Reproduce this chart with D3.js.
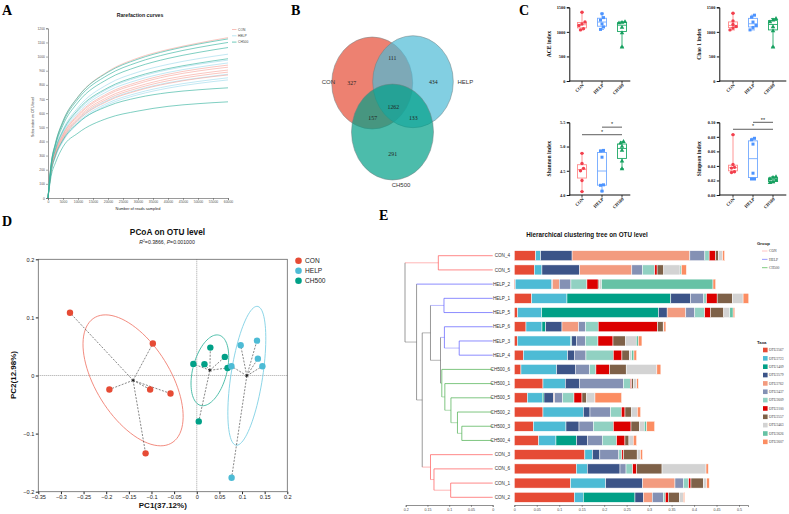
<!DOCTYPE html>
<html>
<head>
<meta charset="utf-8">
<script src="https://cdn.jsdelivr.net/npm/d3@7"></script>
<style>
  body { margin: 0; background: #fff; }
  svg { display: block; }
</style>
</head>
<body>
<svg id="fig" width="789" height="514"></svg>
<script>
const serif = "'Liberation Serif','Times New Roman',serif";
const sans = "'Liberation Sans',Arial,sans-serif";

const groups = ["CON", "HELP", "CH500"];

// ---- A: rarefaction curves (reads sampled vs Sobs) ----
const rareX = [0, 1000, 2500, 5000, 10000, 20000, 30000, 40000, 50000, 60000];
const rareCON = [
  [0, 230, 385, 540, 715, 895, 990, 1050, 1095, 1134],
  [0, 200, 330, 450, 590, 740, 820, 875, 912, 940],
  [0, 195, 325, 445, 582, 730, 808, 862, 898, 925],
  [0, 190, 318, 435, 570, 714, 790, 843, 878, 905],
  [0, 188, 313, 428, 560, 702, 777, 829, 864, 890],
  [0, 185, 306, 418, 548, 686, 760, 810, 845, 870]
];
const rareHELP = [
  [0, 210, 350, 485, 640, 805, 890, 945, 985, 1017],
  [0, 205, 340, 468, 615, 772, 853, 907, 945, 975],
  [0, 200, 333, 458, 602, 756, 835, 888, 925, 955],
  [0, 185, 305, 420, 552, 692, 765, 815, 848, 875],
  [0, 180, 297, 408, 536, 672, 743, 791, 824, 850],
  [0, 175, 290, 400, 526, 660, 730, 777, 810, 835]
];
const rareCH500 = [
  [0, 235, 390, 545, 715, 890, 982, 1043, 1088, 1125],
  [0, 230, 382, 533, 700, 870, 960, 1020, 1064, 1100],
  [0, 222, 370, 515, 677, 842, 929, 987, 1029, 1064],
  [0, 210, 345, 475, 625, 780, 862, 915, 953, 985],
  [0, 180, 300, 410, 530, 650, 710, 745, 765, 779],
  [0, 150, 250, 362, 459, 565, 615, 648, 667, 680]
];
const rareXTicks = [0, 5000, 10000, 15000, 20000, 25000, 30000, 35000, 40000, 45000, 50000, 55000, 60000];
const rareYTicks = [0, 100, 200, 300, 400, 500, 600, 700, 800, 900, 1000, 1100, 1200];

// ---- B: venn counts ----
const vennRegions = ["CON", "HELP", "CH500", "CON&HELP", "CON&CH500", "HELP&CH500", "ALL"];
const vennValues = [327, 434, 291, 111, 157, 133, 1262];

// ---- C: alpha diversity (6 samples per group) ----
const aceValues = [
  [1400, 1200, 1160, 1130, 1065, 1040],
  [1370, 1290, 1240, 1160, 1100, 1050],
  [1205, 1190, 1180, 1090, 980, 690]
];
const chaoValues = [
  [1380, 1220, 1150, 1110, 1080, 1040],
  [1340, 1300, 1200, 1130, 1090, 1040],
  [1270, 1240, 1200, 1100, 1020, 690]
];
const shannonValues = [
  [4.86, 4.65, 4.55, 4.50, 4.30, 4.07],
  [4.92, 4.91, 4.78, 4.21, 4.20, 4.08],
  [5.10, 5.07, 5.00, 4.92, 4.70, 4.54]
];
const simpsonValues = [
  [0.083, 0.042, 0.038, 0.037, 0.032, 0.031],
  [0.078, 0.076, 0.070, 0.030, 0.022, 0.022],
  [0.025, 0.024, 0.022, 0.020, 0.018, 0.017]
];

// ---- D: PCoA coordinates ----
const pcoaCON = [[-0.28, 0.108], [-0.097, 0.055], [-0.193, -0.024], [-0.103, -0.024], [-0.058, -0.031], [-0.113, -0.134]];
const pcoaHELP = [[0.0766, 0.016], [0.097, 0.052], [0.133, 0.060], [0.135, 0.029], [0.145, 0.016], [0.077, -0.176]];
const pcoaCH500 = [[-0.0075, 0.020], [0.017, 0.0195], [0.030, 0.048], [0.062, 0.032], [0.068, 0.013], [0.0044, -0.079]];
const pcoaXTicks = [-0.35, -0.3, -0.25, -0.2, -0.15, -0.1, -0.05, 0, 0.05, 0.1, 0.15, 0.2];
const pcoaYTicks = [-0.2, -0.1, 0, 0.1, 0.2];

// ---- E: clustering tree + relative abundance ----
const sampleNames = ["CON_4", "CON_5", "HELP_2", "HELP_1", "HELP_5", "HELP_6", "HELP_3", "HELP_4",
  "CH500_6", "CH500_1", "CH500_5", "CH500_2", "CH500_3", "CH500_4", "CON_3", "CON_6", "CON_1", "CON_2"];
const taxaNames = ["OTU2567", "OTU2723", "OTU1409", "OTU2579", "OTU2762", "OTU2437",
  "OTU2609", "OTU2100", "OTU2557", "OTU2463", "OTU2626", "OTU2607"];
const taxaValues = [
  [0.0476, 0.0445, 0.002, 0.0386, 0.0074, 0.026, 0.0067, 0.02, 0.0148, 0.0638, 0.029, 0.0638, 0.0423, 0.0541, 0.157, 0.138, 0.1254, 0.1335],
  [0.011, 0.017, 0.081, 0.0786, 0.0534, 0.0356, 0.119, 0.0986, 0.0794, 0.0497, 0.0334, 0.0898, 0.0727, 0.0386, 0.017, 0.0245, 0.0779, 0.02],
  [0, 0, 0, 0.231, 0.260, 0.0082, 0.0022, 0, 0, 0, 0.0037, 0, 0, 0.046, 0, 0, 0, 0.115],
  [0.070, 0.084, 0.002, 0.0438, 0.0193, 0.0363, 0.011, 0.0148, 0.0415, 0.0312, 0.0215, 0.0148, 0.029, 0.0245, 0.0163, 0.0727, 0.0823, 0.0185],
  [0.262, 0.116, 0.015, 0, 0.0415, 0.037, 0, 0, 0, 0, 0.002, 0, 0, 0, 0, 0, 0.0719, 0.02],
  [0.0334, 0.0237, 0.026, 0.0297, 0.02, 0.0156, 0.0193, 0.026, 0.0319, 0.098, 0.018, 0.046, 0.0319, 0.0326, 0.0423, 0.0134, 0.0185, 0.0245],
  [0.0096, 0.0274, 0.0356, 0.006, 0.0222, 0.028, 0.028, 0.0608, 0.014, 0.0156, 0.0252, 0.0237, 0.0445, 0.0319, 0.0067, 0.0148, 0.0119, 0.0045],
  [0.0142, 0.0052, 0.025, 0.0237, 0.0126, 0.132, 0.0334, 0.0193, 0.0304, 0.003, 0.0178, 0.0082, 0.0393, 0.0185, 0.0037, 0.0089, 0.0052, 0.0067],
  [0.006, 0.0148, 0.003, 0.034, 0.0297, 0.0126, 0.028, 0.0163, 0.037, 0.0037, 0.0104, 0.0148, 0.0185, 0.0089, 0.0304, 0.0564, 0.0274, 0.0245],
  [0.0097, 0.0363, 0.0045, 0.0237, 0.0134, 0.0015, 0.0237, 0.0052, 0.0682, 0.0074, 0.0185, 0.0126, 0.0111, 0.0096, 0.0074, 0.0979, 0.0074, 0.0089],
  [0, 0.003, 0.248, 0, 0.0074, 0, 0.0045, 0.0052, 0, 0, 0, 0, 0.0052, 0, 0, 0, 0, 0],
  [0.0045, 0.011, 0.006, 0.0126, 0.0037, 0.0045, 0.0082, 0.006, 0.0089, 0.0037, 0.0593, 0.0074, 0.0178, 0.0074, 0.0045, 0.0052, 0.006, 0.003]
];
const treeTicks = [0.2, 0.15, 0.1, 0.05, 0];
const barTicks = [0, 0.05, 0.1, 0.15, 0.2, 0.25, 0.3, 0.35, 0.4, 0.45, 0.5];
// merge heights of the tree
const treeData = {h: 0.2016, c: [
  {h: 0.125, c: ["CON_4", "CON_5"]},
  {h: 0.175, c: ["HELP_2", {h: 0.162, c: [
    {h: 0.143, c: [
      {h: 0.112, c: ["HELP_1", "HELP_5"]},
      {h: 0.120, c: [
        {h: 0.111, c: ["HELP_6", {h: 0.077, c: ["HELP_3", "HELP_4"]}]},
        {h: 0.117, c: ["CH500_6", {h: 0.110, c: ["CH500_1", {h: 0.096, c: ["CH500_5",
          {h: 0.081, c: ["CH500_2", {h: 0.071, c: ["CH500_3", "CH500_4"]}]}]}]}]}
      ]}
    ]},
    {h: 0.143, c: ["CON_3", {h: 0.135, c: ["CON_6", {h: 0.0966, c: ["CON_1", "CON_2"]}]}]}
  ]}]}
]};

const svg = d3.select("#fig");

function styleAxis(sel, size, color, family) {
  sel.selectAll("text").attr("font-size", size).attr("font-family", family || sans).attr("fill", color);
  sel.selectAll("line").attr("stroke", color);
  sel.select(".domain").attr("stroke", color);
}

// panel letters
[["A", 2, 15], ["B", 291, 15], ["C", 519, 15], ["D", 2, 226], ["E", 379, 220]].forEach(([t, x, y]) => {
  svg.append("text").attr("x", x).attr("y", y).text(t)
    .attr("font-family", serif).attr("font-weight", "bold").attr("font-size", 14);
});

// ================= A =================
{
  const g = svg.append("g");
  const x = d3.scaleLinear().domain([0, 60000]).range([48, 228]);
  const y = d3.scaleLinear().domain([0, 1200]).range([198, 28.3]);

  const xa = g.append("g").attr("transform", "translate(0,198)")
    .call(d3.axisBottom(x).tickValues(rareXTicks).tickSize(2).tickPadding(1).tickFormat(d3.format("d")));
  styleAxis(xa, 3.4, "#555");
  const ya = g.append("g").attr("transform", "translate(48,0)")
    .call(d3.axisLeft(y).tickValues(rareYTicks).tickSize(2).tickPadding(1).tickFormat(d3.format("d")));
  styleAxis(ya, 3.4, "#555");
  g.selectAll(".domain").attr("stroke-width", 0.6);
  g.selectAll(".tick line").attr("stroke-width", 0.5);

  const colors = {CON: "#F5A59C", HELP: "#9FDBEC", CH500: "#34B39E"};
  const line = d3.line().x((d, i) => x(rareX[i])).y(d => y(d)).curve(d3.curveMonotoneX);
  [["HELP", rareHELP], ["CON", rareCON], ["CH500", rareCH500]].forEach(([grp, rows]) => {
    g.selectAll(null).data(rows).join("path")
      .attr("d", line).attr("fill", "none")
      .attr("stroke", colors[grp]).attr("stroke-width", 0.7).attr("stroke-opacity", 0.9);
  });

  g.append("text").attr("x", 140).attr("y", 17).attr("text-anchor", "middle")
    .attr("font-family", sans).attr("font-weight", "bold").attr("font-size", 5.2).attr("fill", "#222")
    .text("Rarefaction curves");
  g.append("text").attr("x", 138).attr("y", 210).attr("text-anchor", "middle")
    .attr("font-family", sans).attr("font-size", 3.9).attr("fill", "#222").text("Number of reads sampled");
  g.append("text").attr("transform", "translate(33.5,117) rotate(-90)").attr("text-anchor", "middle")
    .attr("font-family", sans).attr("font-size", 3.6).attr("fill", "#222").text("Sobs index on OTU level");

  groups.forEach((grp, i) => {
    const yy = 29.5 + i * 6.3;
    g.append("line").attr("x1", 232).attr("x2", 236.5).attr("y1", yy).attr("y2", yy)
      .attr("stroke", colors[grp]).attr("stroke-width", 0.7);
    g.append("text").attr("x", 238).attr("y", yy + 1.1).attr("font-family", sans)
      .attr("font-size", 3.3).attr("fill", "#444").text(grp);
  });
}

// ================= B =================
{
  const g = svg.append("g");
  const shapes = [
    {cx: 372.2, cy: 83, rx: 40.5, ry: 46, fill: "#E64B35"},
    {cx: 413, cy: 81.7, rx: 40.3, ry: 46, fill: "#4DBBD5"},
    {cx: 392.5, cy: 132, rx: 41, ry: 48, fill: "#00A087"}
  ];
  g.selectAll("ellipse").data(shapes).join("ellipse")
    .attr("cx", d => d.cx).attr("cy", d => d.cy).attr("rx", d => d.rx).attr("ry", d => d.ry)
    .attr("fill", d => d.fill).attr("fill-opacity", 0.7)
    .attr("stroke", "#6f7f80").attr("stroke-width", 0.5);

  const spots = {
    "CON": [351.7, 83], "HELP": [433.3, 82], "CH500": [392.7, 154],
    "CON&HELP": [392.3, 58.3], "CON&CH500": [372.7, 118], "HELP&CH500": [413.3, 118], "ALL": [393.3, 106.7]
  };
  g.selectAll("text.cnt").data(vennRegions).join("text").attr("class", "cnt")
    .attr("x", d => spots[d][0]).attr("y", d => spots[d][1]).attr("dy", "0.35em")
    .attr("text-anchor", "middle").attr("font-family", serif).attr("font-size", 5.8).attr("fill", "#222")
    .text((d, i) => vennValues[i]);

  g.append("text").attr("x", 335).attr("y", 84).attr("text-anchor", "end")
    .attr("font-family", sans).attr("font-size", 6).attr("fill", "#333").text("CON");
  g.append("text").attr("x", 457.5).attr("y", 84).attr("font-family", sans)
    .attr("font-size", 6).attr("fill", "#333").text("HELP");
  g.append("text").attr("x", 401).attr("y", 187).attr("text-anchor", "middle")
    .attr("font-family", sans).attr("font-size", 6).attr("fill", "#333").text("CH500");
}

// ================= C =================
const boxStroke = ["#FF8A8A", "#72A9FF", "#1FA866"];
const ptFill = ["#F2404E", "#4D94FF", "#17A060"];
const ptShape = [d3.symbolCircle, d3.symbolSquare, d3.symbolTriangle];

function drawBox(cfg) {
  const g = svg.append("g");
  const y = d3.scaleLinear().domain(cfg.domain).range(cfg.yr);
  const x = d3.scalePoint().domain(groups).range(cfg.xr);

  const ya = g.append("g").attr("transform", `translate(${cfg.ax},0)`)
    .call(d3.axisLeft(y).tickValues(cfg.ticks).tickFormat(cfg.fmt).tickSize(2.5).tickPadding(1.5));
  styleAxis(ya, 4.3, "#111", serif);
  ya.selectAll("text").attr("font-weight", "bold");
  ya.select(".domain").attr("stroke-width", 1);

  g.append("line").attr("x1", cfg.ax).attr("x2", cfg.ax + cfg.len)
    .attr("y1", cfg.yr[0]).attr("y2", cfg.yr[0]).attr("stroke", "#111").attr("stroke-width", 1);
  groups.forEach(grp => {
    g.append("line").attr("x1", x(grp)).attr("x2", x(grp)).attr("y1", cfg.yr[0]).attr("y2", cfg.yr[0] + 2.5)
      .attr("stroke", "#111").attr("stroke-width", 0.8);
    g.append("text").attr("transform", `translate(${x(grp) + 2},${cfg.yr[0] + 4.5}) rotate(-45)`)
      .attr("text-anchor", "end").attr("font-family", serif).attr("font-weight", "bold")
      .attr("font-size", 4.5).attr("fill", "#111").text(grp);
  });
  g.append("text").attr("transform", `translate(${cfg.ax - 18},${(cfg.yr[0] + cfg.yr[1]) / 2}) rotate(-90)`)
    .attr("text-anchor", "middle").attr("font-family", serif).attr("font-weight", "bold")
    .attr("font-size", 5.6).attr("fill", "#111").text(cfg.label);

  cfg.data.forEach((vals, i) => {
    const s = vals.slice().sort(d3.ascending);
    const q1 = d3.quantileSorted(s, 0.25), med = d3.quantileSorted(s, 0.5), q3 = d3.quantileSorted(s, 0.75);
    const cx = x(groups[i]);
    const c = boxStroke[i];
    g.append("line").attr("x1", cx).attr("x2", cx).attr("y1", y(s[0])).attr("y2", y(q1)).attr("stroke", c).attr("stroke-width", 0.9);
    g.append("line").attr("x1", cx).attr("x2", cx).attr("y1", y(q3)).attr("y2", y(s[s.length - 1])).attr("stroke", c).attr("stroke-width", 0.9);
    [s[0], s[s.length - 1]].forEach(v => {
      g.append("line").attr("x1", cx - 2).attr("x2", cx + 2).attr("y1", y(v)).attr("y2", y(v)).attr("stroke", c).attr("stroke-width", 0.9);
    });
    g.append("rect").attr("x", cx - 4.5).attr("width", 9).attr("y", y(q3)).attr("height", Math.max(0.5, y(q1) - y(q3)))
      .attr("fill", "none").attr("stroke", c).attr("stroke-width", 0.9);
    g.append("line").attr("x1", cx - 4.5).attr("x2", cx + 4.5).attr("y1", y(med)).attr("y2", y(med)).attr("stroke", c).attr("stroke-width", 0.9);

    // spread points that overlap vertically
    const pts = s.map(v => ({v, py: y(v)}));
    let cluster = [];
    const placed = [];
    pts.forEach((p, k) => {
      if (cluster.length && (Math.abs(p.py - cluster[cluster.length - 1].py) > 2.6 || cluster.length >= 3)) {
        placed.push(cluster); cluster = [];
      }
      cluster.push(p);
      if (k === pts.length - 1) placed.push(cluster);
    });
    placed.forEach(cl => cl.forEach((p, k) => { p.px = cx + (k - (cl.length - 1) / 2) * 3; }));
    g.selectAll(null).data(pts).join("path")
      .attr("transform", d => `translate(${d.px},${d.py})`)
      .attr("d", d3.symbol().type(ptShape[i]).size(9))
      .attr("fill", ptFill[i]);
  });

  (cfg.sig || []).forEach(([a, b, v, t]) => {
    g.append("line").attr("x1", x(groups[a])).attr("x2", x(groups[b])).attr("y1", y(v)).attr("y2", y(v))
      .attr("stroke", "#333").attr("stroke-width", 0.8);
    g.append("text").attr("x", (x(groups[a]) + x(groups[b])) / 2).attr("y", y(v) - 0.8)
      .attr("text-anchor", "middle").attr("font-family", sans).attr("font-size", 5.5).attr("fill", "#222").text(t);
  });
}

drawBox({ax: 569.3, len: 61, xr: [582, 622], yr: [81, 7.3], domain: [0, 1500], ticks: [0, 500, 1000, 1500],
  fmt: d3.format("d"), label: "ACE index", data: aceValues});
drawBox({ax: 719.3, len: 67, xr: [733, 773], yr: [81, 7.3], domain: [0, 1500], ticks: [0, 500, 1000, 1500],
  fmt: d3.format("d"), label: "Chao 1 index", data: chaoValues});
drawBox({ax: 569.3, len: 61, xr: [582, 622], yr: [195, 122.3], domain: [4.0, 5.5], ticks: [4.0, 4.5, 5.0, 5.5],
  fmt: d3.format(".1f"), label: "Shannon index", data: shannonValues,
  sig: [[0, 2, 5.244, "*"], [1, 2, 5.40, "*"]]});
drawBox({ax: 719.3, len: 67, xr: [733, 773], yr: [195, 122.3], domain: [0, 0.1], ticks: [0, 0.02, 0.04, 0.06, 0.08, 0.10],
  fmt: d3.format(".2f"), label: "Simpson index", data: simpsonValues,
  sig: [[0, 2, 0.0904, "*"], [1, 2, 0.100, "**"]]});

// ================= D =================
{
  const g = svg.append("g");
  const x = d3.scaleLinear().domain([-0.35, 0.2]).range([38.3, 287.3]);
  const y = d3.scaleLinear().domain([-0.2, 0.2]).range([491.7, 259.3]);
  const colD = {CON: "#E64B35", HELP: "#4DBBD5", CH500: "#00A087"};
  const ellCol = {CON: "#F07F72", HELP: "#7FD0E4", CH500: "#3DB8A2"};

  g.append("rect").attr("x", 38.3).attr("y", 259.3).attr("width", 249).attr("height", 232.4)
    .attr("fill", "none").attr("stroke", "#666").attr("stroke-width", 0.8);
  const xa = g.append("g").attr("transform", "translate(0,491.7)")
    .call(d3.axisBottom(x).tickValues(pcoaXTicks).tickFormat(d3.format("~g")).tickSize(2.5).tickPadding(1));
  styleAxis(xa, 5.6, "#222");
  xa.select(".domain").remove();
  const ya = g.append("g").attr("transform", "translate(38.3,0)")
    .call(d3.axisLeft(y).tickValues(pcoaYTicks).tickFormat(d3.format("~g")).tickSize(2.5).tickPadding(1.5));
  styleAxis(ya, 5.6, "#222");
  ya.select(".domain").remove();

  g.append("line").attr("x1", x(0)).attr("x2", x(0)).attr("y1", 259.3).attr("y2", 491.7)
    .attr("stroke", "#666").attr("stroke-width", 0.6).attr("stroke-dasharray", "1,1");
  g.append("line").attr("x1", 38.3).attr("x2", 287.3).attr("y1", y(0)).attr("y2", y(0))
    .attr("stroke", "#666").attr("stroke-width", 0.6).attr("stroke-dasharray", "1,1");

  const sets = [["CON", pcoaCON], ["CH500", pcoaCH500], ["HELP", pcoaHELP]];
  sets.forEach(([grp, pts]) => {
    const mx = d3.mean(pts, d => d[0]), my = d3.mean(pts, d => d[1]);
    const n = pts.length;
    const a = d3.sum(pts, d => (d[0] - mx) ** 2) / (n - 1);
    const dd = d3.sum(pts, d => (d[1] - my) ** 2) / (n - 1);
    const b = d3.sum(pts, d => (d[0] - mx) * (d[1] - my)) / (n - 1);
    const tr = (a + dd) / 2, disc = Math.sqrt(((a - dd) / 2) ** 2 + b * b);
    const l1 = tr + disc, l2 = Math.max(tr - disc, 0);
    const th = 0.5 * Math.atan2(2 * b, a - dd);
    const k = 1.36;
    const ell = d3.range(0, 361, 4).map(deg => {
      const t = deg * Math.PI / 180;
      const u = k * Math.sqrt(l1) * Math.cos(t), v = k * Math.sqrt(l2) * Math.sin(t);
      return [mx + u * Math.cos(th) - v * Math.sin(th), my + u * Math.sin(th) + v * Math.cos(th)];
    });
    g.append("path").attr("d", d3.line().x(d => x(d[0])).y(d => y(d[1])).curve(d3.curveLinearClosed)(ell))
      .attr("fill", "none").attr("stroke", ellCol[grp]).attr("stroke-width", 0.9);
    g.selectAll(null).data(pts).join("line")
      .attr("x1", x(mx)).attr("y1", y(my)).attr("x2", d => x(d[0])).attr("y2", d => y(d[1]))
      .attr("stroke", "#333").attr("stroke-width", 0.6).attr("stroke-dasharray", "2,1.4");
    g.append("path").attr("transform", `translate(${x(mx)},${y(my)})`)
      .attr("d", d3.symbol().type(d3.symbolAsterisk).size(10)).attr("stroke", "#111").attr("stroke-width", 0.6).attr("fill", "none");
    g.selectAll(null).data(pts).join("circle")
      .attr("cx", d => x(d[0])).attr("cy", d => y(d[1])).attr("r", 3.2).attr("fill", colD[grp]);
  });

  g.append("text").attr("x", 167.5).attr("y", 235).attr("text-anchor", "middle")
    .attr("font-family", sans).attr("font-weight", "bold").attr("font-size", 8.3).attr("fill", "#111").text("PCoA on OTU level");
  const sub = g.append("text").attr("x", 167).attr("y", 243.5).attr("text-anchor", "middle")
    .attr("font-family", sans).attr("font-size", 5.2).attr("fill", "#222");
  sub.append("tspan").attr("font-style", "italic").text("R");
  sub.append("tspan").attr("font-size", 3.4).attr("dy", -1.8).text("2");
  sub.append("tspan").attr("dy", 1.8).text("=0.3866, ");
  sub.append("tspan").attr("font-style", "italic").text("P");
  sub.append("tspan").text("=0.001000");

  g.append("text").attr("x", 162.8).attr("y", 508).attr("text-anchor", "middle")
    .attr("font-family", sans).attr("font-weight", "bold").attr("font-size", 8).attr("fill", "#111").text("PC1(37.12%)");
  g.append("text").attr("transform", "translate(16,375) rotate(-90)").attr("text-anchor", "middle")
    .attr("font-family", sans).attr("font-weight", "bold").attr("font-size", 8).attr("fill", "#111").text("PC2(12.98%)");

  groups.forEach((grp, i) => {
    g.append("circle").attr("cx", 298.5).attr("cy", 260.7 + i * 10).attr("r", 3.3).attr("fill", colD[grp]);
    g.append("text").attr("x", 305).attr("y", 263 + i * 10).attr("font-family", sans)
      .attr("font-size", 6.6).attr("fill", "#222").text(grp);
  });
}

// ================= E =================
{
  const g = svg.append("g");
  const taxaColors = ["#E64B35", "#4DBBD5", "#00A087", "#3C5488", "#F39B7F", "#8491B4",
    "#91D1C2", "#DC0000", "#7E6148", "#D3D3D3", "#66C2A5", "#FC8D62"];
  const yRow = d3.scalePoint().domain(sampleNames).range([255.7, 497.3]);
  const xBar = d3.scaleLinear().domain([0, 0.52]).range([514.3, 748]);
  const xTree = d3.scaleLinear().domain([0.2, 0]).range([405.7, 492.7]);
  const groupOf = s => s.split("_")[0];

  // stacked bars
  const table = sampleNames.map((s, i) => {
    const row = {sample: s};
    taxaNames.forEach((t, j) => { row[t] = taxaValues[j][i]; });
    return row;
  });
  const stacked = d3.stack().keys(taxaNames)(table);
  const barH = 10;
  g.selectAll("g.layer").data(stacked).join("g").attr("class", "layer")
    .attr("fill", (d, i) => taxaColors[i])
    .selectAll("rect").data(d => d).join("rect")
    .attr("x", d => xBar(d[0])).attr("width", d => Math.max(0, xBar(d[1]) - xBar(d[0])))
    .attr("y", d => yRow(d.data.sample) - barH / 2).attr("height", barH)
    .attr("stroke", "#fff").attr("stroke-width", 0.5);

  // tree
  const root = d3.hierarchy(treeData, d => typeof d === "string" ? null : d.c);
  root.eachAfter(nd => {
    if (!nd.children) {
      nd.h = 0; nd.py = yRow(nd.data);
      nd.grp = groupOf(nd.data);
    } else {
      nd.h = nd.data.h;
      const ys = nd.children.map(c => c.py);
      nd.py = (d3.min(ys) + d3.max(ys)) / 2;
      const gs = new Set(nd.children.map(c => c.grp));
      nd.grp = gs.size === 1 ? [...gs][0] : "mix";
    }
  });
  const treeCol = {CON: "#FF5A5A", HELP: "#6060FF", CH500: "#4CAF50", mix: "#555"};
  root.descendants().forEach(nd => {
    if (nd.parent) {
      g.append("line").attr("x1", xTree(nd.h)).attr("x2", xTree(nd.parent.h))
        .attr("y1", nd.py).attr("y2", nd.py)
        .attr("stroke", treeCol[nd.grp]).attr("stroke-opacity", nd.children ? 0.55 : 0.9).attr("stroke-width", 0.8);
    }
    if (nd.children) {
      const ys = nd.children.map(c => c.py);
      g.append("line").attr("x1", xTree(nd.h)).attr("x2", xTree(nd.h))
        .attr("y1", d3.min(ys)).attr("y2", d3.max(ys))
        .attr("stroke", treeCol[nd.grp]).attr("stroke-opacity", nd.grp === "mix" ? 0.75 : 0.9).attr("stroke-width", 0.8);
    }
  });

  g.selectAll("text.lab").data(sampleNames).join("text").attr("class", "lab")
    .attr("x", 510).attr("y", d => yRow(d)).attr("dy", "0.35em").attr("text-anchor", "end")
    .attr("font-family", sans).attr("font-size", 4.6).attr("fill", "#333").text(d => d);

  const ta = g.append("g").attr("transform", "translate(0,505)")
    .call(d3.axisBottom(xTree).tickValues(treeTicks).tickFormat(d3.format("~g")).tickSize(2).tickPadding(1));
  styleAxis(ta, 3.6, "#444");
  const ba = g.append("g").attr("transform", "translate(0,505)")
    .call(d3.axisBottom(xBar).tickValues(barTicks).tickFormat(d3.format("~g")).tickSize(2).tickPadding(1));
  styleAxis(ba, 3.6, "#444");
  g.selectAll(".domain").attr("stroke-width", 0.6);
  g.selectAll(".tick line").attr("stroke-width", 0.5);

  g.append("text").attr("x", 587).attr("y", 237).attr("text-anchor", "middle")
    .attr("font-family", sans).attr("font-weight", "bold").attr("font-size", 6.3).attr("fill", "#111")
    .text("Hierarchical clustering tree on OTU level");

  // legends
  const legGrp = {CON: "#FFB3B3", HELP: "#8080FF", CH500: "#5DBB5D"};
  g.append("text").attr("x", 757).attr("y", 245).attr("font-family", sans).attr("font-weight", "bold")
    .attr("font-size", 4.3).attr("fill", "#222").text("Group");
  groups.forEach((grp, i) => {
    const yy = 251 + i * 8.35;
    g.append("line").attr("x1", 762).attr("x2", 767.5).attr("y1", yy).attr("y2", yy)
      .attr("stroke", legGrp[grp]).attr("stroke-width", 0.8);
    g.append("text").attr("x", 769).attr("y", yy + 1.2).attr("font-family", serif)
      .attr("font-size", 3.6).attr("fill", "#444").text(grp);
  });
  g.append("text").attr("x", 757).attr("y", 343.5).attr("font-family", sans).attr("font-weight", "bold")
    .attr("font-size", 4.3).attr("fill", "#222").text("Taxa");
  taxaNames.forEach((t, i) => {
    const yy = 350 + i * 8.35;
    g.append("rect").attr("x", 763).attr("y", yy - 2.3).attr("width", 4.6).attr("height", 4.6).attr("fill", taxaColors[i]);
    g.append("text").attr("x", 769).attr("y", yy + 1.2).attr("font-family", serif)
      .attr("font-size", 3.6).attr("fill", "#444").text(t);
  });
}
</script>
</body>
</html>
